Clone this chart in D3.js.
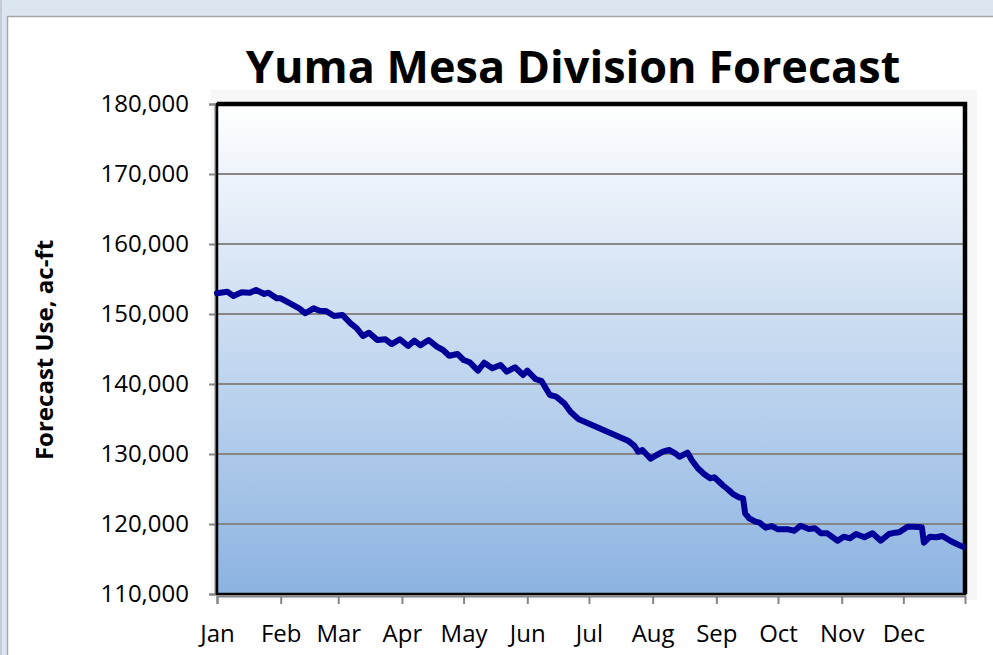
<!DOCTYPE html>
<html>
<head>
<meta charset="utf-8">
<script src="https://cdn.jsdelivr.net/npm/d3@7"></script>
<style>
  body { margin: 0; background: #dce6f1; }
  svg { display: block; }
  text { font-family: "Open Sans", "Noto Sans", sans-serif; fill: #000; }
</style>
</head>
<body>
<script>
var width = 993,
    height = 655;

// chart data
var title = "Yuma Mesa Division Forecast";
var yLabel = "Forecast Use, ac-ft";
var monthLabels = ["Jan", "Feb", "Mar", "Apr", "May", "Jun", "Jul", "Aug", "Sep", "Oct", "Nov", "Dec"];
var yTicks = [110000, 120000, 130000, 140000, 150000, 160000, 170000, 180000];

var dates = [
  "01-01", "01-06", "01-09", "01-13", "01-17", "01-20", "01-24", "01-26", "01-30", "02-01",
  "02-06", "02-10", "02-13", "02-17", "02-20", "02-23", "02-27", "03-03", "03-07", "03-10",
  "03-13", "03-16", "03-20", "03-24", "03-27", "03-31", "04-04", "04-07", "04-10", "04-14",
  "04-18", "04-21", "04-24", "04-28", "05-01", "05-04", "05-08", "05-11", "05-15", "05-19",
  "05-22", "05-26", "05-30", "06-01", "06-05", "06-08", "06-10", "06-12", "06-15", "06-19",
  "06-22", "06-26", "06-30", "07-20", "07-23", "07-25", "07-27", "07-31", "08-03", "08-06",
  "08-09", "08-12", "08-14", "08-18", "08-20", "08-23", "08-26", "08-29", "08-31", "09-04",
  "09-07", "09-09", "09-12", "09-14", "09-15", "09-17", "09-20", "09-22", "09-25", "09-28",
  "10-01", "10-06", "10-09", "10-12", "10-16", "10-19", "10-22", "10-25", "10-30", "11-02",
  "11-05", "11-08", "11-12", "11-16", "11-20", "11-24", "11-27", "11-29", "12-03", "12-06",
  "12-10", "12-11", "12-14", "12-17", "12-20", "12-24", "12-27", "12-30"
];
var forecastUse = [
  152960, 153190, 152570, 153100, 153040, 153430, 152860, 153040, 152240, 152240,
  151430, 150810, 150100, 150810, 150470, 150430, 149710, 149860, 148670, 147960,
  146860, 147330, 146290, 146390, 145710, 146390, 145430, 146190, 145530, 146290,
  145330, 144860, 144040, 144290, 143430, 143100, 141900, 143040, 142240, 142710,
  141760, 142390, 141290, 141900, 140710, 140400, 139390, 138430, 138190, 137240,
  136040, 134960, 134470, 131900, 131190, 130330, 130570, 129330, 129860, 130330,
  130570, 130100, 129610, 130190, 129140, 127960, 127140, 126530, 126670, 125570,
  124860, 124290, 123810, 123670, 121530, 120810, 120330, 120190, 119470, 119710,
  119240, 119240, 119040, 119760, 119290, 119390, 118670, 118670, 117610, 118190,
  117960, 118570, 118100, 118670, 117610, 118570, 118760, 118810, 119610, 119610,
  119530, 117330, 118190, 118100, 118290, 117570, 117140, 116760
];

var parseDay = d3.timeParse("%Y-%m-%d");
var data = dates.map(function(d, i) {
  return {date: parseDay("2023-" + d), value: forecastUse[i]};
});

var margin = {top: 104, right: 28, bottom: 61, left: 217};
var plotW = width - margin.left - margin.right,
    plotH = height - margin.top - margin.bottom;

var svg = d3.select("body").append("svg")
    .attr("width", width)
    .attr("height", height);

// chart panel
svg.append("rect")
    .attr("x", 7.5).attr("y", 16.5)
    .attr("width", width).attr("height", height)
    .attr("fill", "#fff")
    .attr("stroke", "#a6a6a6")
    .attr("stroke-width", 1.5);
svg.append("line")
    .attr("x1", 1).attr("x2", 1).attr("y1", 0).attr("y2", height)
    .attr("stroke", "#c4ccd6").attr("stroke-width", 2);

var defs = svg.append("defs");
var grad = defs.append("linearGradient")
    .attr("id", "plotfill")
    .attr("x1", 0).attr("y1", 0).attr("x2", 0).attr("y2", 1);
grad.append("stop").attr("offset", "0%").attr("stop-color", "#ffffff");
grad.append("stop").attr("offset", "100%").attr("stop-color", "#8cb3e1");

var x = d3.scaleTime()
    .domain([parseDay("2023-01-01"), parseDay("2023-12-31")])
    .range([0, plotW]);
var y = d3.scaleLinear()
    .domain([110000, 180000])
    .range([plotH, 0]);

var g = svg.append("g")
    .attr("transform", "translate(" + margin.left + "," + margin.top + ")");

// faint shadow around plot
g.append("rect")
    .attr("x", -6).attr("y", -14)
    .attr("width", plotW + 18).attr("height", plotH + 20)
    .attr("fill", "#f7f7f7");

g.append("rect")
    .attr("width", plotW).attr("height", plotH)
    .attr("fill", "url(#plotfill)");

// grid lines
g.append("g")
    .selectAll("line")
    .data(yTicks.slice(1, -1))
  .enter().append("line")
    .attr("x1", 0).attr("x2", plotW)
    .attr("y1", function(d) { return y(d); })
    .attr("y2", function(d) { return y(d); })
    .attr("stroke", "#868686")
    .attr("stroke-width", 2);

// y axis
var yAxis = g.append("g")
    .attr("transform", "translate(-2,0)")
    .call(d3.axisLeft(y).tickValues(yTicks).tickFormat(d3.format(",")).tickSize(6).tickPadding(20));
yAxis.select(".domain").attr("stroke", "#868686").attr("stroke-width", 2);
yAxis.selectAll(".tick line").attr("stroke", "#868686").attr("stroke-width", 2);
yAxis.selectAll("text")
    .style("font-size", "24px")
    .style("font-family", "'Open Sans', sans-serif")
    .attr("fill", "#000");

// x axis
var monthStarts = d3.range(12).map(function(m) { return new Date(2023, m, 1); });
var xAxis = g.append("g")
    .attr("transform", "translate(0," + (plotH + 2) + ")")
    .call(d3.axisBottom(x).tickValues(monthStarts)
      .tickFormat(function(d, i) { return monthLabels[i]; })
      .tickSize(8).tickPadding(21));
xAxis.select(".domain").attr("stroke", "#868686").attr("stroke-width", 2);
xAxis.selectAll(".tick line").attr("stroke", "#868686").attr("stroke-width", 2);
xAxis.selectAll("text")
    .style("font-size", "24px")
    .style("font-family", "'Open Sans', sans-serif")
    .attr("fill", "#000");

// plot frame: thin left/bottom, thick top/right
g.append("rect")
    .attr("width", plotW).attr("height", plotH)
    .attr("fill", "none")
    .attr("stroke", "#000")
    .attr("stroke-width", 2.5);
g.append("path")
    .attr("d", "M0,0H" + plotW + "V" + plotH)
    .attr("fill", "none")
    .attr("stroke", "#000")
    .attr("stroke-width", 4.5);

// the forecast line
var line = d3.line()
    .x(function(d) { return x(d.date); })
    .y(function(d) { return y(d.value); });

g.append("path")
    .datum(data)
    .attr("d", line)
    .attr("fill", "none")
    .attr("stroke", "#000099")
    .attr("stroke-width", 6)
    .attr("stroke-linejoin", "round")
    .attr("stroke-linecap", "round");

// title
svg.append("text")
    .attr("x", 573).attr("y", 83)
    .attr("text-anchor", "middle")
    .style("font-size", "45px")
    .style("font-weight", "bold")
    .text(title);

// y label
svg.append("text")
    .attr("transform", "translate(53,350) rotate(-90)")
    .attr("text-anchor", "middle")
    .style("font-size", "24px")
    .style("font-weight", "bold")
    .text(yLabel);
</script>
</body>
</html>
